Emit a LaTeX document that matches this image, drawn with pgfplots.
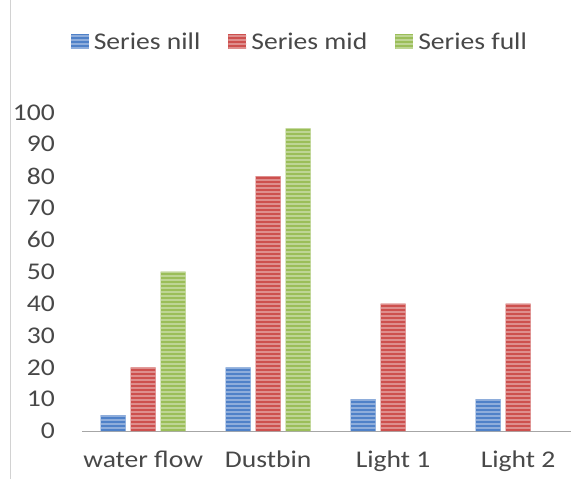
\documentclass[border=0pt]{standalone}
\usepackage{pgfplots}
\pgfplotsset{compat=1.18}
\usepackage{fontspec}
\setmainfont{Carlito}[FakeStretch=1.15]
\usetikzlibrary{patterns.meta}
\definecolor{cnill}{RGB}{79,129,200}
\definecolor{cmid}{RGB}{205,80,78}
\definecolor{cfull}{RGB}{155,190,89}
\definecolor{txt}{RGB}{72,72,72}
\newcommand{\bigfont}{\fontsize{24}{28}\selectfont}
\begin{document}
\begin{tikzpicture}
\begin{axis}[
  name=ax,
  scale only axis,
  width=489pt, height=319pt,
  ybar=5pt, bar width=25pt,
  xmin=-0.49, xmax=3.42,
  ymin=0, ymax=100,
  xtick={0,1,2,3},
  xticklabels={water flow,Dustbin,Light 1,Light 2},
  ytick={0,10,...,100},
  axis x line=bottom, axis y line=left,
  x axis line style={-, draw=gray!70, line width=0.8pt},
  y axis line style={draw=none},
  major tick length=0pt,
  /pgf/number format/assume math mode=true,
  tick label style={font=\bigfont, text=txt},
  yticklabel style={inner sep=0pt, xshift=-27pt},
  xticklabel style={inner sep=0pt, yshift=-20pt},
  legend columns=3,
  legend style={draw=none, fill=none, at={(0.446,1.222)}, anchor=center,
    font=\bigfont, text=txt, column sep=0pt,
    /tikz/every even column/.append style={column sep=26pt},
    nodes={inner sep=2pt}},
  legend image code/.code={\fill[#1] (0pt,-7pt) rectangle (18pt,8pt); \path (21pt,0pt);},
]
\addplot[draw=none, fill=cnill, postaction={pattern={Lines[angle=0,distance=4pt,line width=1.4pt]}, pattern color=cnill!45!white}]
  coordinates {(0,5) (1,20) (2,10) (3,10)};
\addlegendentry{Series nill}
\addplot[draw=none, fill=cmid, postaction={pattern={Lines[angle=0,distance=4pt,line width=1.4pt]}, pattern color=cmid!45!white}]
  coordinates {(0,20) (1,80) (2,40) (3,40)};
\addlegendentry{Series mid}
\addplot[draw=none, fill=cfull, postaction={pattern={Lines[angle=0,distance=4pt,line width=1.4pt]}, pattern color=cfull!45!white}]
  coordinates {(0,50) (1,95)};
\addlegendentry{Series full}
\end{axis}
\draw[gray!35, line width=0.8pt] ([shift={(-72pt,-48pt)}]ax.south west) -- ++(0,479pt);
\path[use as bounding box] ([shift={(-82pt,-48pt)}]ax.south west) rectangle ([shift={(489pt,431pt)}]ax.south west);
\end{tikzpicture}
\end{document}
